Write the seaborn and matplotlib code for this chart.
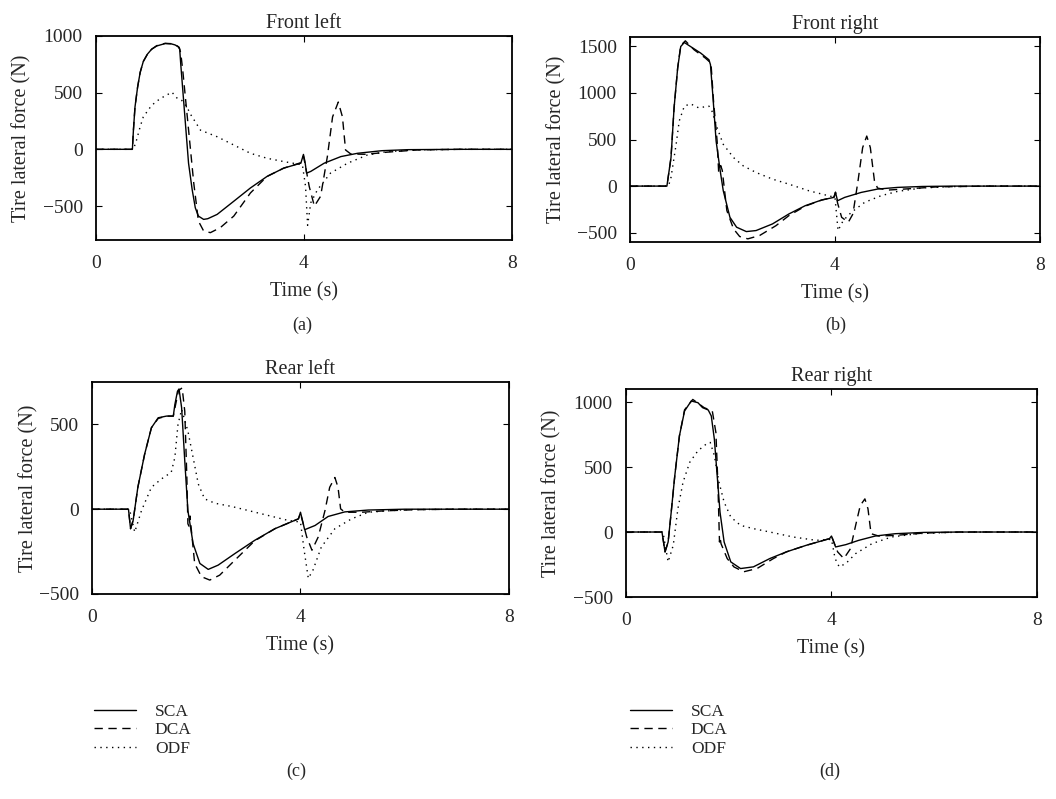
import numpy as np
import pandas as pd
import seaborn as sns
import matplotlib.pyplot as plt
from matplotlib.lines import Line2D

# Tire lateral force (N) vs time (s)
# --- Front left ---
fl_sca_t = [0, 0.70, 0.72, 0.75, 0.80, 0.85, 0.91, 0.99, 1.07, 1.17, 1.33, 1.45, 1.52, 1.58, 1.61, 1.63, 1.67, 1.72,
            1.78, 1.85, 1.91, 1.97, 2.07, 2.15, 2.33, 2.65, 2.97, 3.29, 3.61, 3.94, 3.99, 4.02, 4.05, 4.13, 4.39,
            4.71, 5.03, 5.5, 6.0, 7.0, 8.0]
fl_sca_f = [0, 0, 170, 373, 548, 679, 775, 840, 883, 912, 933, 930, 921, 905, 883, 752, 519, 227,
            -122, -356, -516, -589, -618, -612, -574, -458, -341, -239, -166, -122, -45, -110, -210, -195, -122,
            -64, -35, -12, -3, 0, 0]
fl_dca_t = [0, 0.70, 0.72, 0.75, 0.80, 0.85, 0.91, 0.99, 1.07, 1.17, 1.33, 1.45, 1.52, 1.60, 1.63, 1.67, 1.75, 1.88,
            1.97, 2.07, 2.20, 2.39, 2.65, 2.97, 3.29, 3.61, 3.94, 3.99, 4.03, 4.10, 4.20, 4.32, 4.45, 4.55, 4.66,
            4.74, 4.80, 4.90, 5.2, 5.6, 6.2, 7.0, 8.0]
fl_dca_f = [0, 0, 170, 373, 548, 679, 775, 840, 883, 915, 935, 932, 925, 900, 850, 690, 315, -297,
            -633, -720, -735, -691, -589, -385, -239, -166, -118, -60, -150, -326, -501, -414, -64, 286, 417,
            286, -6, -41, -44, -25, -5, 0, 0]
fl_odf_t = [0, 0.72, 0.78, 0.85, 0.91, 1.07, 1.23, 1.46, 1.57, 1.65, 1.75, 1.81, 2.01, 2.33, 2.65, 2.97, 3.29, 3.61,
            3.97, 4.03, 4.07, 4.13, 4.26, 4.51, 4.84, 5.22, 5.6, 6.2, 7.0, 8.0]
fl_odf_f = [0, 0, 82, 200, 286, 388, 446, 504, 446, 431, 373, 315, 169, 111, 38, -35, -79, -108,
            -137, -326, -670, -472, -356, -210, -122, -50, -20, -5, 0, 0]

# --- Front right ---
fr_sca_t = [0, 0.72, 0.80, 0.86, 0.93, 0.99, 1.06, 1.18, 1.38, 1.54, 1.57, 1.62, 1.68, 1.76, 1.82, 1.95, 2.08, 2.27,
            2.46, 2.78, 3.10, 3.42, 3.74, 3.98, 4.01, 4.05, 4.19, 4.51, 4.83, 5.22, 5.7, 6.3, 7.0, 8.0]
fr_sca_f = [0, 0, 306, 840, 1267, 1498, 1541, 1498, 1427, 1356, 1303, 947, 484, 164, -50, -335, -441, -488,
            -477, -406, -299, -210, -149, -121, -68, -157, -121, -68, -32, -14, -4, 0, 0, 0]
fr_dca_t = [0, 0.72, 0.80, 0.86, 0.93, 0.99, 1.08, 1.25, 1.47, 1.58, 1.63, 1.70, 1.73, 1.77, 1.80, 1.89, 2.02, 2.14,
            2.30, 2.53, 2.85, 3.10, 3.42, 3.74, 3.98, 4.01, 4.05, 4.13, 4.26, 4.35, 4.45, 4.54, 4.62, 4.69, 4.77,
            4.83, 5.02, 5.4, 6.0, 7.0, 8.0]
fr_dca_f = [0, 0, 306, 840, 1267, 1510, 1559, 1463, 1374, 1320, 911, 484, 150, 220, 170, -263, -459, -541,
            -566, -530, -424, -317, -215, -150, -118, -65, -180, -335, -388, -299, 57, 413, 537, 413, 57,
            -21, -43, -30, -8, 0, 0]
fr_odf_t = [0, 0.75, 0.80, 0.90, 0.96, 1.06, 1.18, 1.34, 1.54, 1.60, 1.70, 1.82, 2.02, 2.21, 2.46, 2.78, 3.10, 3.49,
            3.87, 4.00, 4.06, 4.16, 4.32, 4.58, 4.90, 5.22, 5.7, 6.3, 7.0, 8.0]
fr_odf_f = [0, 0, 93, 448, 698, 858, 883, 840, 858, 804, 626, 448, 306, 217, 146, 75, 21, -50,
            -103, -121, -477, -370, -281, -174, -103, -57, -20, -5, 0, 0]

# --- Rear left ---
rl_sca_t = [0, 0.70, 0.74, 0.79, 0.88, 1.01, 1.14, 1.27, 1.43, 1.56, 1.59, 1.64, 1.67, 1.72, 1.78, 1.84, 1.94, 2.07,
            2.23, 2.42, 2.74, 3.12, 3.51, 3.96, 4.00, 4.08, 4.28, 4.53, 4.85, 5.3, 6.0, 7.0, 8.0]
rl_sca_f = [0, 0, -115, -66, 129, 324, 480, 539, 549, 549, 617, 695, 709, 598, 285, -8, -203, -320,
            -355, -330, -262, -184, -115, -57, -18, -121, -96, -43, -16, -5, 0, 0, 0]
rl_dca_t = [0, 0.70, 0.74, 0.79, 0.88, 1.01, 1.14, 1.27, 1.43, 1.56, 1.60, 1.66, 1.73, 1.78, 1.82, 1.84, 1.86, 1.88,
            1.97, 2.10, 2.26, 2.45, 2.74, 3.12, 3.51, 3.96, 4.00, 4.12, 4.22, 4.34, 4.47, 4.56, 4.66, 4.72, 4.77,
            4.85, 5.17, 5.6, 6.2, 7.0, 8.0]
rl_dca_f = [0, 0, -115, -66, 129, 324, 480, 535, 549, 549, 610, 700, 715, 578, 188, -86, -100, -40,
            -320, -398, -418, -389, -301, -187, -115, -57, -25, -164, -242, -164, -8, 129, 187, 129, 2,
            -18, -18, -10, -3, 0, 0]
rl_odf_t = [0, 0.72, 0.82, 0.95, 1.14, 1.33, 1.52, 1.59, 1.65, 1.72, 1.84, 1.94, 2.04, 2.16, 2.36, 2.68, 3.00, 3.38,
            3.76, 4.00, 4.07, 4.15, 4.24, 4.40, 4.66, 4.98, 5.30, 6.0, 7.0, 8.0]
rl_odf_f = [0, 0, -135, -8, 129, 178, 217, 305, 500, 588, 461, 305, 148, 61, 35, 16, -8, -37,
            -66, -76, -242, -408, -359, -223, -115, -57, -18, -3, 0, 0]

# --- Rear right ---
rr_sca_t = [0, 0.70, 0.76, 0.82, 0.88, 0.95, 1.04, 1.14, 1.27, 1.40, 1.49, 1.60, 1.66, 1.72, 1.77, 1.83, 1.91, 2.04,
            2.23, 2.48, 2.80, 3.12, 3.51, 3.96, 4.00, 4.08, 4.28, 4.53, 4.85, 5.24, 5.8, 6.5, 8.0]
rr_sca_f = [0, 0, -153, -77, 153, 434, 740, 931, 1008, 995, 957, 939, 893, 714, 459, 153, -77, -230,
            -281, -268, -204, -153, -102, -51, -31, -115, -97, -64, -31, -13, -3, 0, 0]
rr_dca_t = [0, 0.70, 0.76, 0.82, 0.88, 0.95, 1.04, 1.14, 1.30, 1.52, 1.68, 1.75, 1.79, 1.82, 1.83, 1.85, 1.97, 2.10,
            2.29, 2.55, 2.87, 3.12, 3.51, 3.96, 4.00, 4.12, 4.24, 4.37, 4.47, 4.56, 4.65, 4.71, 4.77, 4.92, 5.24,
            5.8, 6.5, 8.0]
rr_dca_f = [0, 0, -153, -77, 153, 434, 740, 940, 1020, 957, 931, 765, 357, -77, -40, -90, -204, -268,
            -306, -281, -204, -153, -102, -51, -31, -153, -204, -128, 51, 204, 255, 179, -13, -31, -26,
            -8, 0, 0]
rr_odf_t = [0, 0.72, 0.82, 0.92, 1.01, 1.11, 1.24, 1.40, 1.56, 1.64, 1.72, 1.81, 1.91, 2.04, 2.23, 2.48, 2.80, 3.25,
            3.70, 4.00, 4.07, 4.15, 4.28, 4.47, 4.79, 5.17, 5.7, 6.3, 7.0, 8.0]
rr_odf_f = [0, 0, -230, -102, 179, 383, 536, 625, 676, 689, 587, 383, 230, 115, 51, 26, 0, -38,
            -64, -56, -204, -268, -242, -166, -89, -38, -12, -3, 0, 0]

titles = ['Front left', 'Front right', 'Rear left', 'Rear right']
panel_tags = ['(a)', '(b)', '(c)', '(d)']
methods = ['SCA', 'DCA', 'ODF']
y_ticks = [[-500, 0, 500, 1000], [-500, 0, 500, 1000, 1500], [-500, 0, 500], [-500, 0, 500, 1000]]
y_lims = [(-800, 1000), (-600, 1600), (-500, 750), (-500, 1100)]

series = [
    [(fl_sca_t, fl_sca_f), (fl_dca_t, fl_dca_f), (fl_odf_t, fl_odf_f)],
    [(fr_sca_t, fr_sca_f), (fr_dca_t, fr_dca_f), (fr_odf_t, fr_odf_f)],
    [(rl_sca_t, rl_sca_f), (rl_dca_t, rl_dca_f), (rl_odf_t, rl_odf_f)],
    [(rr_sca_t, rr_sca_f), (rr_dca_t, rr_dca_f), (rr_odf_t, rr_odf_f)],
]

sns.set_theme(style='ticks')
plt.rcParams['font.family'] = ['Liberation Serif', 'DejaVu Serif']

dash_styles = {'SCA': '', 'DCA': (6, 4), 'ODF': (1, 3.2)}

fig = plt.figure(figsize=(10.56, 7.99), dpi=100)
# axes boxes in figure fractions [left, bottom, width, height]
boxes = [
    [0.0909, 0.6996, 0.3939, 0.2554],
    [0.5966, 0.6971, 0.3882, 0.2566],
    [0.0871, 0.2566, 0.3949, 0.2653],
    [0.5928, 0.2528, 0.3892, 0.2603],
]
ylabel_x = [-0.156, -0.156, -0.129, -0.156]
tag_pos = [(302, 325), (836, 325), (296, 771), (830, 771)]

for i in range(4):
    ax = fig.add_axes(boxes[i])
    rows = []
    for m, (t, f) in zip(methods, series[i]):
        rows.append(pd.DataFrame({'time': t, 'force': f, 'method': m}))
    df = pd.concat(rows, ignore_index=True)
    sns.lineplot(data=df, x='time', y='force', style='method', dashes=dash_styles,
                 color='black', lw=1.0, estimator=None, sort=False, legend=False, ax=ax)
    ax.set_xlim(0, 8)
    ax.set_ylim(*y_lims[i])
    ax.set_xticks([0, 4, 8])
    ax.set_yticks(y_ticks[i])
    ax.set_yticklabels([str(v).replace('-', '\u2212') for v in y_ticks[i]])
    ax.tick_params(direction='in', length=4, width=0.8, top=True, right=True, labelsize=14, color='black')
    ax.tick_params(axis='x', pad=11)
    ax.tick_params(axis='y', pad=9.5)
    for s in ax.spines.values():
        s.set_linewidth(1.3)
        s.set_color('black')
    ax.set_title(titles[i], fontsize=14.5, pad=6)
    ax.set_xlabel('Time (s)', fontsize=14.5, labelpad=7)
    ax.set_ylabel('Tire lateral force (N)', fontsize=14.5)
    ax.yaxis.set_label_coords(ylabel_x[i], 0.5)
    fig.text(tag_pos[i][0] / 1056, 1 - tag_pos[i][1] / 799, panel_tags[i],
             ha='center', va='center', fontsize=13)

    if i >= 2:
        handles = [Line2D([], [], color='black', lw=1.0, linestyle='-'),
                   Line2D([], [], color='black', lw=1.0, linestyle=(0, (6, 4))),
                   Line2D([], [], color='black', lw=1.0, linestyle=(0, (1, 3.2)))]
        x0 = (94 if i == 2 else 630) / 1056
        ax.legend(handles, methods, loc='upper left', bbox_to_anchor=(x0, 1 - 704 / 799),
                  bbox_transform=fig.transFigure, frameon=False, fontsize=12.5,
                  handlelength=2.4, handletextpad=1.1, labelspacing=0.12,
                  borderpad=0, borderaxespad=0)

fig.savefig('out.png', dpi=100)
